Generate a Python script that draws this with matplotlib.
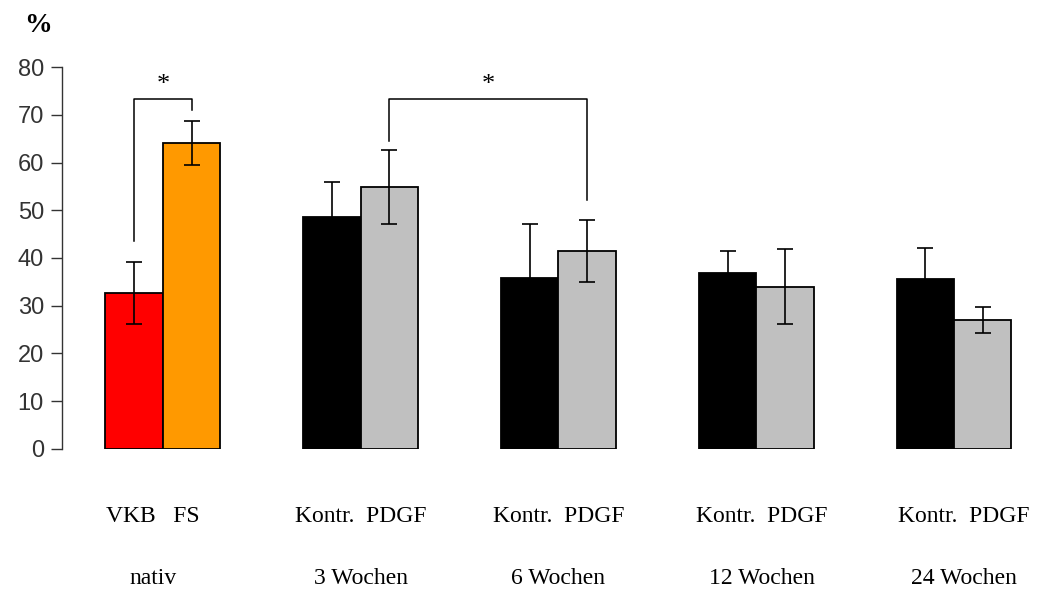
import matplotlib
matplotlib.use("Agg")
import matplotlib.pyplot as plt
import matplotlib.transforms as mtransforms
import numpy as np

# groups along the x axis, two bars per group
groups = ["nativ", "3 Wochen", "6 Wochen", "12 Wochen", "24 Wochen"]
left_names = ["VKB", "Kontr.", "Kontr.", "Kontr.", "Kontr."]
right_names = ["FS", "PDGF", "PDGF", "PDGF", "PDGF"]

left_vals = [32.6, 48.6, 35.9, 36.9, 35.6]
left_err = [6.5, 7.3, 11.2, 4.6, 6.5]
right_vals = [64.0, 54.9, 41.4, 34.0, 27.0]
right_err = [4.6, 7.8, 6.5, 7.9, 2.7]

left_colors = ["#ff0000", "#000000", "#000000", "#000000", "#000000"]
right_colors = ["#ff9900", "#c0c0c0", "#c0c0c0", "#c0c0c0", "#c0c0c0"]

# significance brackets: (start bar, end bar, y left foot, y right foot, y top)
brackets = [
    ((0, "L"), (0, "R"), 43.5, 71.1, 73.2),
    ((1, "R"), (2, "R"), 64.6, 52.1, 73.2),
]

W = 0.29
x = np.arange(len(groups))

fig = plt.figure(figsize=(10.47, 5.92), dpi=100)
ax = fig.add_axes([0.0592, 0.2416, 0.9408, 0.6452])

ax.bar(x - W / 2, left_vals, W, color=left_colors, edgecolor="black", linewidth=1.3)
ax.bar(x + W / 2, right_vals, W, color=right_colors, edgecolor="black", linewidth=1.3)
ax.errorbar(x - W / 2, left_vals, yerr=left_err, fmt="none", ecolor="black",
            elinewidth=1.2, capsize=6, capthick=1.2)
ax.errorbar(x + W / 2, right_vals, yerr=right_err, fmt="none", ecolor="black",
            elinewidth=1.2, capsize=6, capthick=1.2)

def bar_x(ref):
    i, side = ref
    return x[i] - W / 2 if side == "L" else x[i] + W / 2

for a, b, y1, y2, top in brackets:
    xa, xb = bar_x(a), bar_x(b)
    ax.plot([xa, xa, xb, xb], [y1, top, top, y2], color="black", lw=1.1,
            clip_on=False)
    ax.text((xa + xb) / 2, top + 0.8, "*", ha="center", va="bottom",
            fontsize=19, family="Liberation Serif")

ax.set_xlim(-0.51, 4.47)
ax.set_ylim(0, 80)
ax.set_yticks(range(0, 81, 10))
ax.tick_params(axis="y", direction="out", length=8, width=1, labelsize=17,
               colors="#333333", pad=5)
for lab in ax.get_yticklabels():
    lab.set_family("Liberation Sans")
ax.set_xticks([])
for side in ["top", "right", "bottom"]:
    ax.spines[side].set_visible(False)
ax.spines["left"].set_linewidth(1)
ax.spines["left"].set_color("#333333")

# two rows of category labels under the bars
trans = mtransforms.blended_transform_factory(ax.transData, fig.transFigure)
shift = [-0.05, 0, 0, 0.03, 0.05]
for i in range(len(groups)):
    gap = "   " if i == 0 else "  "
    ax.text(x[i] + shift[i], 1 - 516 / 592,
            left_names[i] + gap + right_names[i],
            transform=trans, ha="center", va="center", fontsize=17,
            family="Liberation Serif")
    ax.text(x[i] + shift[i], 1 - 579 / 592, groups[i], transform=trans,
            ha="center", va="center", fontsize=17, family="Liberation Serif")

fig.text(38 / 1047, 1 - 26 / 592, "%", ha="center", va="center",
         fontsize=20, fontweight="bold", family="Liberation Serif")

fig.savefig("out.png", dpi=100)
